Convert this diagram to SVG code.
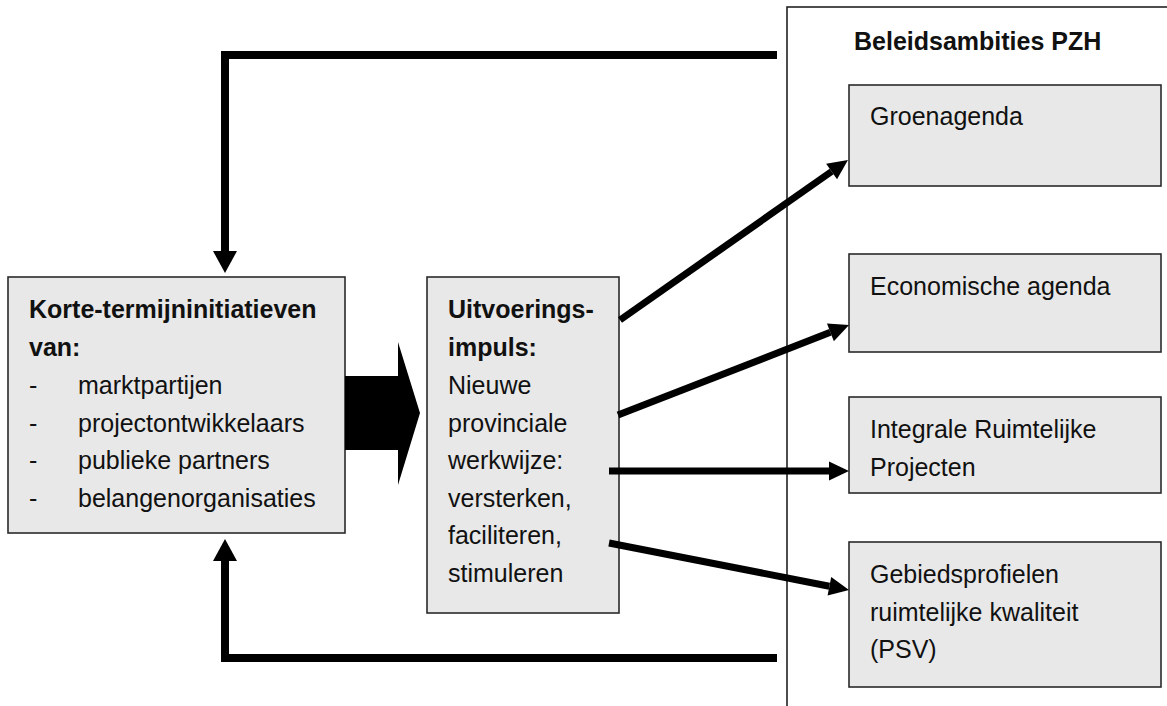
<svg xmlns="http://www.w3.org/2000/svg" width="1167" height="706" viewBox="0 0 1167 706">
<style>
.box{fill:#e8e8e8;stroke:#2a2a2a;stroke-width:1.6}
.t{font-family:"Liberation Sans",Arial,sans-serif;font-size:25px;fill:#111}
.b{font-weight:bold}
.c{fill:none;stroke:#000;stroke-width:7}
.loop{fill:none;stroke:#000;stroke-width:8;stroke-linejoin:miter}
</style>
<defs>
<marker id="h" markerUnits="userSpaceOnUse" markerWidth="22" markerHeight="22" refX="0" refY="9.5" orient="auto" overflow="visible">
<path d="M0,0 L20,9.5 L0,19 z" fill="#000"/>
</marker>
<marker id="hl" markerUnits="userSpaceOnUse" markerWidth="24" markerHeight="26" refX="0" refY="12" orient="auto" overflow="visible">
<path d="M0,0 L22,12 L0,24 z" fill="#000"/>
</marker>
</defs>
<rect width="1167" height="706" fill="#fff"/>

<g id="beleidsambities">
<rect x="787" y="7" width="400" height="720" fill="none" stroke="#222" stroke-width="1.6"/>
<text class="t b" x="854" y="50">Beleidsambities PZH</text>
</g>

<g id="groenagenda">
<rect class="box" x="849" y="85" width="312" height="101"/>
<text class="t" x="870" y="125">Groenagenda</text>
</g>
<g id="economische">
<rect class="box" x="849" y="254" width="312" height="98"/>
<text class="t" x="870" y="295">Economische agenda</text>
</g>
<g id="integrale">
<rect class="box" x="849" y="397" width="312" height="96"/>
<text class="t" x="870" y="438">Integrale Ruimtelijke</text>
<text class="t" x="870" y="476">Projecten</text>
</g>
<g id="gebiedsprofielen">
<rect class="box" x="849" y="542" width="312" height="145"/>
<text class="t" x="870" y="583">Gebiedsprofielen</text>
<text class="t" x="870" y="621">ruimtelijke kwaliteit</text>
<text class="t" x="870" y="658">(PSV)</text>
</g>

<g id="korte">
<rect class="box" x="8" y="277" width="337" height="256"/>
<text class="t b" x="29" y="318">Korte-termijninitiatieven</text>
<text class="t b" x="29" y="356">van:</text>
<text class="t" x="29" y="394">-</text><text class="t" x="78" y="394">marktpartijen</text>
<text class="t" x="29" y="432">-</text><text class="t" x="78" y="432">projectontwikkelaars</text>
<text class="t" x="29" y="469">-</text><text class="t" x="78" y="469">publieke partners</text>
<text class="t" x="29" y="507">-</text><text class="t" x="78" y="507">belangenorganisaties</text>
</g>

<g id="uitvoering">
<rect class="box" x="427" y="277" width="192" height="336"/>
<text class="t b" x="448" y="318">Uitvoerings-</text>
<text class="t b" x="448" y="356">impuls:</text>
<text class="t" x="448" y="394">Nieuwe</text>
<text class="t" x="448" y="432">provinciale</text>
<text class="t" x="448" y="469">werkwijze:</text>
<text class="t" x="448" y="507">versterken,</text>
<text class="t" x="448" y="544">faciliteren,</text>
<text class="t" x="448" y="582">stimuleren</text>
</g>

<g id="connectors">
<polygon points="345,376 398,376 398,342 420,413 398,485 398,450 345,450" fill="#000"/>
<polyline class="loop" points="777,55 225,55 225,251" marker-end="url(#hl)"/>
<polyline class="loop" points="777,658 225,658 225,561" marker-end="url(#hl)"/>
<line class="c" x1="620" y1="320" x2="831.6" y2="171.5" marker-end="url(#h)"/>
<line class="c" x1="618" y1="415" x2="830.4" y2="332.3" marker-end="url(#h)"/>
<line class="c" x1="609" y1="471" x2="829" y2="471" marker-end="url(#h)"/>
<line class="c" x1="609" y1="543" x2="829.4" y2="586.2" marker-end="url(#h)"/>
</g>
</svg>
